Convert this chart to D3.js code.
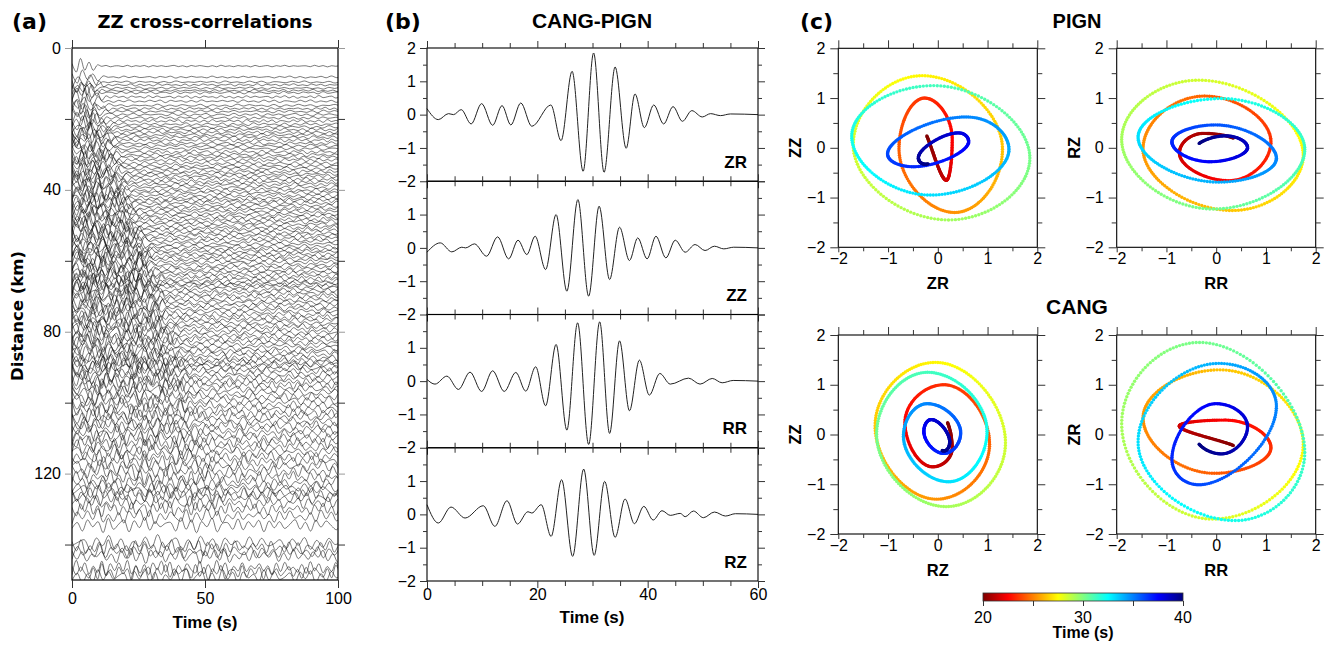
<!DOCTYPE html>
<html><head><meta charset="utf-8">
<script src="https://cdn.jsdelivr.net/npm/d3@7"></script>
<style>body{margin:0;background:#fff}svg{display:block}</style>
</head><body>
<svg id="c" width="1327" height="650"></svg>
<script>
// ---------------- DATA ----------------
// Panel (a): trace distances (km)
const traceDistances = [5.1,8.2,9.6,10.4,11.3,12.0,12.6,13.8,15.0,16.2,17.1,17.9,18.8,19.7,
 20.6,21.5,22.3,23.0,23.8,24.5,25.2,26.0,26.9,27.6,28.4,29.3,30.1,30.8,31.6,32.5,33.3,34.0,34.8,35.5,36.2,37.0,37.8,38.5,39.3,
 40.1,40.8,41.6,42.4,43.0,43.7,44.5,45.3,46.0,46.8,47.5,48.3,49.0,49.8,50.6,51.3,52.1,52.8,53.6,54.4,55.2,56.0,56.7,57.4,58.1,58.9,59.6,
 60.4,61.2,62.0,62.8,63.5,64.3,65.1,65.9,66.4,66.9,67.6,68.4,69.2,70.0,70.9,71.7,72.5,73.4,74.2,75.1,76.0,76.8,77.7,78.5,79.4,
 80.3,81.2,82.1,83.0,83.9,84.8,85.6,86.5,87.4,88.2,88.9,89.5,90.2,91.0,92.0,93.0,94.0,95.0,96.1,97.2,98.3,99.4,
 100.6,101.8,103.0,104.1,105.3,106.4,107.6,108.8,110.0,111.3,112.6,113.9,115.2,116.6,118.0,119.4,
 121.0,122.6,123.8,124.8,125.7,126.8,128.2,130.0,132.0,134.5,139.6,140.8,142.0,143.2,146.6,147.8,149.0];
// moveout / amplitude tables read from the section
const tableDist = [0,10,20,40,60,80,100,120,150];
const arrivalTime = [3,6,9,16,26,34,42,50,60];
const earlyAmp = [2.3,2.5,2.6,2.7,2.7,2.6,2.5,2.4,2.4];
const codaAmp = [0.15,0.35,0.45,0.6,0.7,0.9,1.3,1.8,2.0];
// wiggle shapes (normalised samples) and their sample spacing (s)
const wiggleA = [0.3,-0.7,0.9,-0.5,0.6,-0.9,0.4,-0.2,0.8,-0.8,0.2,0.3,-0.6,0.9,-0.7,0.5,-0.3,0.7,-1.0,0.6,-0.4,0.5,-0.5,0.1,0.8,-0.6,0.4,-0.9,0.7,-0.3,0.6,-0.1,-0.7,0.5,-0.8,1.0,-0.4,0.3,-0.7,0.6,-0.2,0.4,-0.9,0.8,-0.5,0.1,0.6,-0.8,0.5,-0.3,0.9,-0.6,0.4,-0.2,0.2];
const wiggleB = [-0.4,0.8,-0.6,0.3,-0.9,0.7,-0.5,0.9,-0.2,0.4,-0.7,0.6,-1.0,0.5,-0.1,-0.6,0.8,-0.4,0.7,-0.8,0.3,-0.5,0.9,-0.6,0.2,-0.3,0.7,-0.9,0.5,-0.7,0.4,0.1,-0.5,0.8,-0.6,0.3,-0.8,0.9,-0.4,0.6,-0.7,0.2,-0.2,0.7,-0.9,0.5,-0.4,0.8,-0.3,0.6,-0.8,0.4,-0.6,0.3,-0.1];
const wiggleC = [0.6,-0.3,0.5,-0.8,0.9,-0.4,0.2,-0.7,0.8,-0.5,0.7,-0.9,0.3,0.0,-0.6,0.7,-0.4,0.9,-0.7,0.2,-0.5,0.6,-0.8,0.9,-0.3,0.4,-0.6,0.2,-0.9,0.8,-0.5,0.7,-0.2,0.3,-0.8,0.6,-0.4,0.9,-0.6,0.1,-0.5,0.7,-0.3,0.8,-1.0,0.6,-0.2,0.4,-0.7,0.5,-0.6,0.9,-0.4,0.2,-0.3];
const wiggleD = [-0.2,0.5,-0.9,0.7,-0.3,0.6,-0.6,0.2,0.4,-0.8,0.9,-0.5,0.6,-0.3,0.8,-0.9,0.4,-0.6,0.3,-0.2,0.7,-0.7,0.9,-0.4,0.5,-0.8,0.3,-0.5,0.8,-0.2,0.1,-0.7,0.9,-0.6,0.4,-0.3,0.6,-0.9,0.7,-0.5,0.2,-0.4,0.8,-0.6,0.3,-0.9,0.5,-0.1,0.6,-0.7,0.4,-0.5,0.8,-0.3,0.2];
const wiggleE = [0.5,-0.5,0.2,-0.8,0.6,-0.3,0.9,-0.6,0.4,-0.9,0.7,-0.2,0.5,-0.7,0.3,-0.4,0.8,-0.6,0.1,0.5,-0.9,0.6,-0.3,0.7,-0.5,0.9,-0.8,0.2,-0.4,0.6,-0.7,0.8,-0.3,0.5,-0.2,0.7,-0.8,0.4,-0.6,0.9,-0.4,0.3,-0.5,0.6,-0.2,0.8,-0.7,0.3,-0.9,0.6,-0.4,0.5,-0.6,0.2,-0.1];
const wiggleF = [-0.6,0.4,-0.3,0.9,-0.7,0.5,-0.8,0.3,-0.1,0.6,-0.5,0.8,-0.9,0.4,-0.6,0.7,-0.2,0.5,-0.8,0.9,-0.5,0.3,-0.6,0.4,-0.9,0.7,-0.2,0.6,-0.4,0.8,-0.6,0.2,-0.8,0.5,-0.7,0.9,-0.3,0.4,-0.5,0.2,0.6,-0.8,0.7,-0.4,0.5,-0.9,0.3,-0.6,0.8,-0.2,0.4,-0.7,0.5,-0.3,0.1];
const wiggleSteps = [1.6,1.85,2.1,1.7,2.3,1.95];

// Panel (b): CANG-PIGN cross-correlations, extrema [time s, amplitude]
const traceZR = [[0,0.18],[2.05,-0.15],[3.9,0.03],[4.8,0.0],[6.2,0.15],[8.0,-0.28],[9.9,0.33],[11.9,-0.32],[13.6,0.27],[15.2,-0.31],[17.0,0.35],[19.0,-0.35],[22.45,0.29],[24.3,-0.78],[26.3,1.30],[28.3,-1.70],[30.2,1.85],[32.1,-1.73],[34.1,1.43],[36.1,-1.01],[37.7,0.62],[39.4,-0.39],[41.1,0.29],[42.9,-0.28],[44.6,0.24],[46.3,-0.20],[48.0,0.12],[49.9,-0.07],[51.4,0.03],[53.2,-0.03],[55.0,0.02],[60,0]];
const traceZZ = [[0,-0.13],[2.4,0.15],[4.5,-0.12],[6.3,0.02],[7.0,0.0],[8.6,0.12],[10.8,-0.25],[12.8,0.33],[14.8,-0.33],[16.5,0.23],[18.1,-0.2],[19.6,0.35],[21.5,-0.65],[23.4,1.0],[25.35,-1.3],[27.35,1.45],[29.3,-1.45],[31.2,1.25],[33.1,-0.95],[34.9,0.62],[36.7,-0.38],[38.2,0.3],[39.9,-0.33],[41.5,0.35],[43.3,-0.3],[45.0,0.23],[46.8,-0.13],[48.6,0.1],[50.4,-0.08],[52.1,0.05],[53.8,-0.03],[55.6,0.02],[60,0]];
const traceRR = [[0,0.05],[1.45,-0.09],[3.6,0.15],[5.7,-0.25],[7.8,0.27],[9.9,-0.31],[11.9,0.31],[14.0,-0.31],[16.1,0.26],[17.9,-0.30],[19.7,0.43],[21.5,-0.74],[23.4,1.10],[25.35,-1.47],[27.3,1.75],[29.3,-1.9],[31.3,1.78],[33.1,-1.57],[34.9,1.21],[36.7,-0.89],[38.5,0.63],[40.3,-0.42],[42.2,0.23],[44.1,-0.09],[47.4,0.09],[49.5,-0.09],[51.7,0.08],[53.5,-0.05],[55.5,0.02],[60,0]];
const traceRZ = [[0,0.29],[2.05,-0.26],[4.35,0.22],[6.9,-0.11],[10.2,0.26],[12.3,-0.36],[14.5,0.41],[16.4,-0.29],[18.3,0.08],[19.0,0.04],[20.7,0.29],[22.5,-0.66],[24.4,1.04],[26.4,-1.26],[28.4,1.36],[30.3,-1.23],[32.2,0.99],[34.1,-0.69],[35.9,0.46],[37.6,-0.28],[39.3,0.24],[41.0,-0.17],[42.6,0.11],[44.1,-0.03],[45.9,0.03],[46.8,-0.07],[48.3,0.1],[50.1,-0.1],[52.1,0.07],[54.1,-0.05],[55.9,0.02],[60,0]];
const componentNames = ["ZR","ZZ","RR","RZ"];

// Panel (c): particle motion pairs
const pmX = ["ZR","RR","RZ","RR"];
const pmY = ["ZZ","RZ","ZZ","ZR"];
const pmWindow = [20,40];
// colour scale (Time, s)
const cmapTimes = [20,22.5,25,27.5,30,32.5,35,37.5,40];
const cmapColors = ["#800000","#ff0000","#ff8000","#ffff00","#80ff80","#00ffff","#0080ff","#0000ff","#000080"];
const cbarTicks = [20,25,30,35,40];
const cbarLabels = [20,30,40];

// ---------------- DRAW ----------------
const svg = d3.select("#c");
const fNum = "'Liberation Sans', Arial, Helvetica, sans-serif";
const fVer = "'DejaVu Sans', Verdana, sans-serif";
const waves = {ZR:traceZR, ZZ:traceZZ, RR:traceRR, RZ:traceRZ};

function txt(x,y,s,opt={}) {
  const t = svg.append("text").attr("x",x).attr("y",y).text(s)
    .attr("font-family",opt.family||fNum).attr("font-size",opt.size||16)
    .attr("font-weight",opt.bold?"bold":"normal").attr("text-anchor",opt.anchor||"middle").attr("fill","#000");
  if (opt.rot) t.attr("transform",`rotate(${opt.rot},${x},${y})`);
  return t;
}
function drawAxis(gen, x, y, values, size, pad, labels) {
  const g = svg.append("g").attr("transform",`translate(${x},${y})`)
    .call(gen.tickValues(values).tickSize(size).tickPadding(pad)
      .tickFormat(labels ? (d=>labels(d)) : ""));
  g.select(".domain").remove();
  g.selectAll(".tick line").attr("stroke","#333").attr("stroke-width",1);
  g.selectAll("text").attr("font-family",fNum).attr("font-size",16).attr("fill","#000");
  return g;
}
const fmt = d3.format("");

// ===== Panel (a)
const A = {x0:72,x1:338,y0:48,y1:580};
const xA = d3.scaleLinear().domain([0,100]).range([A.x0,A.x1]);
const yA = d3.scaleLinear().domain([0,150]).range([A.y0,A.y1]);
svg.append("clipPath").attr("id","clipA").append("rect")
  .attr("x",A.x0).attr("y",A.y0).attr("width",A.x1-A.x0).attr("height",A.y1-A.y0);
const arrS = d3.scaleLinear().domain(tableDist).range(arrivalTime);
const earS = d3.scaleLinear().domain(tableDist).range(earlyAmp);
const codS = d3.scaleLinear().domain(tableDist).range(codaAmp);
const wiggles = [wiggleA,wiggleB,wiggleC,wiggleD,wiggleE,wiggleF];
const lineA = d3.line().x(p=>xA(p[0])).y(p=>yA(p[1])).curve(d3.curveCatmullRom.alpha(0.5));
const gA = svg.append("g").attr("clip-path","url(#clipA)");
traceDistances.forEach((d,i)=>{
  const wi = i%wiggles.length, w = wiggles[wi], step = wiggleSteps[(i*5+Math.floor(i/6))%wiggleSteps.length];
  const L = w.length, off = (i*17)%L, sg = (i%2)?-1:1;
  const arr = arrS(d), e = earS(d), c = codS(d);
  const envS = d3.scaleLinear().domain([arr,arr+7]).range([e,c]).clamp(true);
  const pts = [];
  for (let k=0;k*step<=102;k++){
    const t = k*step;
    pts.push([t, d - sg*w[(k+off)%L]*envS(t)]);
  }
  gA.append("path").attr("d",lineA(pts)).attr("fill","none")
    .attr("stroke","#111").attr("stroke-width",0.7).attr("stroke-opacity",0.8);
});
svg.append("rect").attr("x",A.x0).attr("y",A.y0).attr("width",A.x1-A.x0).attr("height",A.y1-A.y0)
  .attr("fill","none").attr("stroke","#000").attr("stroke-width",1.2);
drawAxis(d3.axisLeft(yA),A.x0,0,[0,40,80,120],7,4,fmt).selectAll(".tick line").attr("stroke","#999");
drawAxis(d3.axisLeft(yA),A.x0,0,[20,60,100,140],7,4,null);
drawAxis(d3.axisRight(yA),A.x1,0,[0,40,80,120],7,4,null).selectAll(".tick line").attr("stroke","#999");
drawAxis(d3.axisRight(yA),A.x1,0,[20,60,100,140],7,4,null);
drawAxis(d3.axisBottom(xA),0,A.y1,[0,50,100],8,4.7,fmt);
drawAxis(d3.axisTop(xA),0,A.y0,[0,50,100],8,4,null);
txt(12,29,"(a)",{family:fVer,bold:true,size:22,anchor:"start"});
txt(205,27.5,"ZZ cross-correlations",{family:fVer,bold:true,size:18});
txt(23,316,"Distance (km)",{family:fVer,bold:true,size:16.5,rot:-90});
txt(205,628,"Time (s)",{bold:true,size:17});

// ===== Panel (b)
const B = {x0:427,x1:758,y0:48,y1:581};
const subH = (B.y1-B.y0)/4;
const xB = d3.scaleLinear().domain([0,60]).range([B.x0,B.x1]);
componentNames.forEach((name,i)=>{
  const top = B.y0+i*subH, bot = top+subH;
  const yB = d3.scaleLinear().domain([-2,2]).range([bot,top]);
  svg.append("path").datum(waves[name])
    .attr("d",d3.line().x(p=>xB(p[0])).y(p=>yB(p[1])).curve(d3.curveMonotoneX))
    .attr("fill","none").attr("stroke","#222").attr("stroke-width",1);
  svg.append("rect").attr("x",B.x0).attr("y",top).attr("width",B.x1-B.x0).attr("height",subH)
    .attr("fill","none").attr("stroke","#000").attr("stroke-width",1.1);
  const lab = i===0?[-2,-1,0,1,2]:[-2,-1,0,1];
  drawAxis(d3.axisLeft(yB),B.x0,0,lab,7,4,fmt);
  drawAxis(d3.axisLeft(yB),B.x0,0,[-1.5,-0.5,0.5,1.5],4,4,null);
  drawAxis(d3.axisRight(yB),B.x1,0,[-2,-1,0,1,2],7,4,null);
  drawAxis(d3.axisRight(yB),B.x1,0,[-1.5,-0.5,0.5,1.5],4,4,null);
  drawAxis(d3.axisTop(xB),0,top,[0,20,40,60],7,4,null);
  drawAxis(d3.axisTop(xB),0,top,[5,10,15,25,30,35,45,50,55],5,4,null);
  drawAxis(d3.axisBottom(xB),0,bot,[5,10,15,25,30,35,45,50,55],5,4,null);
  drawAxis(d3.axisBottom(xB),0,bot,[0,20,40,60],7,i===3?1:4,i===3?fmt:null);
  txt(747,bot-13.5,name,{bold:true,size:17,anchor:"end"});
});
txt(385,29,"(b)",{family:fVer,bold:true,size:22,anchor:"start"});
txt(592,28.3,"CANG-PIGN",{bold:true,size:21});
txt(592,623,"Time (s)",{bold:true,size:17});

// ===== Panel (c)
const color = d3.scaleLinear().domain(cmapTimes).range(cmapColors).interpolate(d3.interpolateRgb);
function waveAt(pts,t){
  let i = d3.bisector(p=>p[0]).right(pts,t)-1;
  i = Math.max(0,Math.min(pts.length-2,i));
  const [t0,v0]=pts[i],[t1,v1]=pts[i+1];
  const s=(t-t0)/(t1-t0);
  return v0+(v1-v0)*s*s*(3-2*s);
}
const boxSize = 199;
const boxX = [838.3,1116.7], boxY = [48.3,335];
const times = d3.range(pmWindow[0],pmWindow[1]+1e-9,0.025);
pmX.forEach((xc,k)=>{
  const yc = pmY[k];
  const x0 = boxX[k%2], y0 = boxY[Math.floor(k/2)];
  const sx = d3.scaleLinear().domain([-2,2]).range([x0,x0+boxSize]);
  const sy = d3.scaleLinear().domain([-2,2]).range([y0+boxSize,y0]);
  svg.append("g").selectAll("circle").data(times).join("circle")
    .attr("cx",t=>sx(waveAt(waves[xc],t))).attr("cy",t=>sy(waveAt(waves[yc],t)))
    .attr("r",1.7).attr("fill",t=>color(t));
  svg.append("rect").attr("x",x0).attr("y",y0).attr("width",boxSize).attr("height",boxSize)
    .attr("fill","none").attr("stroke","#000").attr("stroke-width",1.1);
  drawAxis(d3.axisLeft(sy),x0,0,[-2,-1,0,1,2],8,5,fmt);
  drawAxis(d3.axisLeft(sy),x0,0,[-1.5,-0.5,0.5,1.5],5,5,null);
  drawAxis(d3.axisRight(sy),x0+boxSize,0,[-2,-1,0,1,2],8,4,null);
  drawAxis(d3.axisRight(sy),x0+boxSize,0,[-1.5,-0.5,0.5,1.5],5,4,null);
  drawAxis(d3.axisTop(sx),0,y0,[-2,-1,0,1,2],8,4,null);
  drawAxis(d3.axisTop(sx),0,y0,[-1.5,-0.5,0.5,1.5],5,4,null);
  drawAxis(d3.axisBottom(sx),0,y0+boxSize,[-1.5,-0.5,0.5,1.5],4,4,null);
  drawAxis(d3.axisBottom(sx),0,y0+boxSize,[-2,-1,0,1,2],5,0.5,fmt);
  txt(x0+boxSize/2,y0+boxSize+42,xc,{bold:true,size:16.5});
  txt(x0-37,y0+boxSize/2,yc,{bold:true,size:16.5,rot:-90});
});
txt(800,29,"(c)",{family:fVer,bold:true,size:22,anchor:"start"});
txt(1077,28,"PIGN",{bold:true,size:20});
txt(1077,313.5,"CANG",{bold:true,size:21});

// colour bar
const CB = {x0:983,x1:1183,y0:593,y1:601};
const xCB = d3.scaleLinear().domain([20,40]).range([CB.x0,CB.x1]);
const grad = svg.append("defs").append("linearGradient").attr("id","jet");
cmapTimes.forEach((t,i)=>grad.append("stop").attr("offset",(t-20)/20).attr("stop-color",cmapColors[i]));
svg.append("rect").attr("x",CB.x0).attr("y",CB.y0).attr("width",CB.x1-CB.x0).attr("height",CB.y1-CB.y0)
  .attr("fill","url(#jet)").attr("stroke","#333").attr("stroke-width",0.8);
drawAxis(d3.axisBottom(xCB),0,CB.y1,cbarTicks,5,4,null);
cbarLabels.forEach(v=>txt(xCB(v),623,fmt(v),{size:16}));
txt(1083,638,"Time (s)",{bold:true,size:16});
</script>
</body></html>
